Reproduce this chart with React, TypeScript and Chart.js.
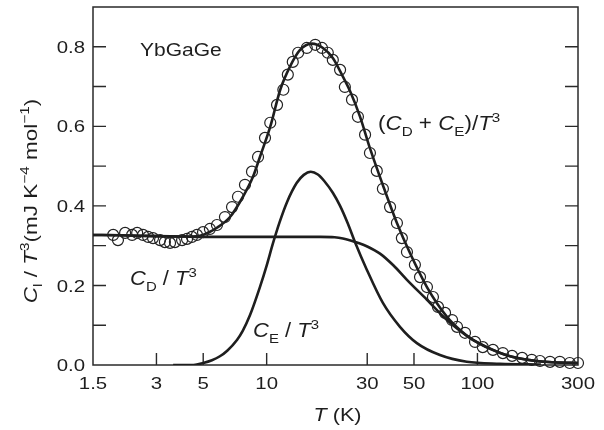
import React, { useEffect, useRef } from "react";
import { Chart, registerables } from "chart.js";

Chart.register(...registerables);

// ---------- data ----------
const xTickValues = [1.5, 3, 5, 10, 30, 50, 100, 300];
const xTickLabels = ["1.5", "3", "5", "10", "30", "50", "100", "300"];
const yTickValues = [0, 0.2, 0.4, 0.6, 0.8];
const yTickLabels = ["0.0", "0.2", "0.4", "0.6", "0.8"];
const yMinorValues = [0.1, 0.3, 0.5, 0.7];

// measured C_l/T^3 (open circles)
const dataT = [
  1.87, 1.97, 2.13, 2.3, 2.43, 2.59, 2.74, 2.89, 3.12, 3.29, 3.48, 3.67, 3.97, 4.19, 4.42, 4.67, 4.99, 5.38,
  5.81, 6.34, 6.85, 7.31, 7.89, 8.52, 9.1, 9.82, 10.4, 11.2, 12.0, 12.6, 13.3, 14.1, 15.5, 17.0, 18.3, 19.5,
  20.6, 22.3, 23.5, 25.4, 27.1, 29.3, 30.9, 33.3, 35.6, 38.5, 41.5, 43.8, 46.3, 50.5, 53.4, 57.6, 61.5, 65.0,
  70.2, 75.8, 80.0, 87.3, 97.4, 106, 118.5, 132, 146, 163, 181, 198, 221, 246, 274, 300,
];
const dataC = [
  0.327, 0.314, 0.332, 0.327, 0.332, 0.327, 0.322, 0.319, 0.314, 0.309, 0.307, 0.309, 0.314, 0.317, 0.322,
  0.327, 0.334, 0.342, 0.352, 0.372, 0.397, 0.423, 0.453, 0.486, 0.523, 0.571, 0.609, 0.654, 0.692, 0.73,
  0.762, 0.785, 0.797, 0.805, 0.797, 0.785, 0.767, 0.742, 0.699, 0.667, 0.624, 0.579, 0.533, 0.488, 0.443,
  0.397, 0.357, 0.319, 0.284, 0.252, 0.221, 0.196, 0.171, 0.146, 0.131, 0.113, 0.096, 0.081, 0.058, 0.045,
  0.038, 0.03, 0.023, 0.018, 0.013, 0.01, 0.008, 0.008, 0.005, 0.005,
];

// fit (C_D + C_E)/T^3
const totalT = [
  1.5, 2, 3, 4, 4.5, 4.83, 5.3, 5.81, 6.7, 7.72, 8.61, 9.29, 10.4, 11.6, 12.9, 14.4, 16.4, 18.5, 20.6, 23.0,
  24.8, 27.7, 30.9, 35.6, 41.5, 47.8, 57.6, 71.7, 82.6, 95.2, 118.5, 147, 198, 250, 300,
];
const totalC = [
  0.327, 0.326, 0.324, 0.323, 0.323, 0.325, 0.333, 0.345, 0.372, 0.423, 0.473, 0.523, 0.599, 0.692, 0.75,
  0.792, 0.808, 0.797, 0.772, 0.725, 0.69, 0.625, 0.545, 0.452, 0.357, 0.282, 0.196, 0.121, 0.088, 0.063,
  0.038, 0.02, 0.009, 0.006, 0.005,
];

// Debye part C_D/T^3
const debyeT = [1.5, 2, 3, 4, 5, 7, 10, 14, 18, 21, 23, 25, 27.5, 30, 34.5, 40, 46.3, 57.6, 71.7, 95.2, 128, 172, 230, 300];
const debyeC = [
  0.327, 0.326, 0.324, 0.323, 0.322, 0.322, 0.322, 0.322, 0.322, 0.321, 0.318, 0.313, 0.306, 0.298, 0.28, 0.25,
  0.214, 0.164, 0.113, 0.063, 0.03, 0.013, 0.007, 0.005,
];

// Einstein part C_E/T^3
const einsteinT = [
  3.6, 4.5, 5, 5.5, 6, 6.5, 7.23, 7.7, 8.33, 9.29, 10, 10.7, 11.5, 12.5, 13.9, 15.0, 16.2, 17.5, 18.8, 20.6,
  22.3, 24.3, 26.2, 29.9, 35.6, 42.9, 51.6, 66.4, 89, 128, 200,
];
const einsteinC = [
  0, 0, 0.005, 0.012, 0.022, 0.036, 0.063, 0.086, 0.125, 0.196, 0.25, 0.305, 0.358, 0.41, 0.458, 0.478, 0.486,
  0.479, 0.462, 0.433, 0.4, 0.355, 0.31, 0.239, 0.156, 0.096, 0.055, 0.025, 0.008, 0.003, 0.001,
];

// ---------- helpers ----------
const FAM = '"Liberation Sans", Arial, Helvetica, sans-serif';
const INK = "#1e1e1e";

type Seg = { t: string; i?: boolean; sub?: boolean; sup?: boolean };

function drawRich(
  ctx: CanvasRenderingContext2D,
  segs: Seg[],
  x: number,
  y: number,
  size: number,
  sx: number,
  align: "left" | "center"
) {
  const small = size * 0.68;
  const fontOf = (s: Seg) => `${s.i ? "italic " : ""}${s.sub || s.sup ? small : size}px ${FAM}`;
  let w = 0;
  for (const s of segs) {
    ctx.font = fontOf(s);
    w += ctx.measureText(s.t).width;
  }
  ctx.save();
  ctx.translate(x, y);
  ctx.scale(sx, 1);
  ctx.textAlign = "left";
  ctx.textBaseline = "alphabetic";
  ctx.fillStyle = INK;
  let cx = align === "center" ? -w / 2 : 0;
  for (const s of segs) {
    ctx.font = fontOf(s);
    const dy = s.sub ? size * 0.3 : s.sup ? -size * 0.42 : 0;
    ctx.fillText(s.t, cx, dy);
    cx += ctx.measureText(s.t).width;
  }
  ctx.restore();
}

const decorPlugin = {
  id: "decor",
  beforeDatasetsDraw(chart: any) {
    const { ctx, chartArea: a, scales } = chart;
    const xs = scales.x;
    const ys = scales.y;
    ctx.save();
    ctx.strokeStyle = "#2a2a2a";
    ctx.lineWidth = 1.5;
    ctx.strokeRect(a.left, a.top, a.right - a.left, a.bottom - a.top);
    ctx.lineWidth = 1.4;
    const tl = 13;
    ctx.beginPath();
    for (const v of [...yTickValues, ...yMinorValues]) {
      if (v === 0) continue;
      const py = ys.getPixelForValue(v);
      ctx.moveTo(a.left, py);
      ctx.lineTo(a.left + tl, py);
      ctx.moveTo(a.right, py);
      ctx.lineTo(a.right - tl, py);
    }
    for (const v of xTickValues) {
      if (v === xTickValues[0] || v === xTickValues[xTickValues.length - 1]) continue;
      const px = xs.getPixelForValue(v);
      ctx.moveTo(px, a.bottom);
      ctx.lineTo(px, a.bottom - 12);
    }
    ctx.stroke();
    ctx.restore();
  },
  afterDraw(chart: any) {
    const { ctx, chartArea: a, scales } = chart;
    const xs = scales.x;
    const ys = scales.y;
    const fs = 17;
    const sx = 1.2;
    // y tick labels
    yTickValues.forEach((v, k) => {
      const py = ys.getPixelForValue(v);
      const label = yTickLabels[k];
      ctx.font = `${fs}px ${FAM}`;
      const w = ctx.measureText(label).width * sx;
      drawRich(ctx, [{ t: label }], a.left - 8 - w, py + fs * 0.36, fs, sx, "left");
    });
    // x tick labels
    xTickValues.forEach((v, k) => {
      const px = xs.getPixelForValue(v);
      drawRich(ctx, [{ t: xTickLabels[k] }], px, a.bottom + 24, fs, sx, "center");
    });
    // x title
    drawRich(ctx, [{ t: "T", i: true }, { t: " (K)" }], (a.left + a.right) / 2 + 2, a.bottom + 56, 18, 1.2, "center");
    // y title
    ctx.save();
    ctx.translate(37, (a.top + a.bottom) / 2 + 15);
    ctx.rotate(-Math.PI / 2);
    drawRich(
      ctx,
      [
        { t: "C", i: true },
        { t: "l", sub: true },
        { t: " / " },
        { t: "T", i: true },
        { t: "3", sup: true },
        { t: "(mJ K" },
        { t: "\u22124", sup: true },
        { t: " mol" },
        { t: "\u22121", sup: true },
        { t: ")" },
      ],
      0,
      0,
      18,
      1.25,
      "center"
    );
    ctx.restore();
    // annotations
    drawRich(ctx, [{ t: "YbGaGe" }], 140, 56, 17.5, 1.2, "left");
    drawRich(
      ctx,
      [
        { t: "(" },
        { t: "C", i: true },
        { t: "D", sub: true },
        { t: " + " },
        { t: "C", i: true },
        { t: "E", sub: true },
        { t: ")/" },
        { t: "T", i: true },
        { t: "3", sup: true },
      ],
      378,
      130,
      20,
      1.12,
      "left"
    );
    drawRich(
      ctx,
      [{ t: "C", i: true }, { t: "D", sub: true }, { t: " / " }, { t: "T", i: true }, { t: "3", sup: true }],
      130,
      285,
      20,
      1.1,
      "left"
    );
    drawRich(
      ctx,
      [{ t: "C", i: true }, { t: "E", sub: true }, { t: " / " }, { t: "T", i: true }, { t: "3", sup: true }],
      253,
      337,
      20,
      1.1,
      "left"
    );
  },
};

const toXY = (xs: number[], ys: number[]) => xs.map((x, i) => ({ x, y: ys[i] }));

export default function App() {
  const ref = useRef<HTMLCanvasElement | null>(null);
  useEffect(() => {
    document.body.style.margin = "0";
    const canvas = ref.current;
    if (!canvas) return;
    const lineStyle = {
      showLine: true,
      pointRadius: 0,
      borderWidth: 2.6,
      borderColor: INK,
      backgroundColor: INK,
      cubicInterpolationMode: "monotone" as const,
      fill: false,
    };
    const chart = new Chart(canvas, {
      type: "scatter",
      data: {
        datasets: [
          {
            label: "data",
            data: toXY(dataT, dataC),
            showLine: false,
            pointRadius: 5.5,
            pointBorderWidth: 1.2,
            pointBorderColor: "#222",
            pointBackgroundColor: "rgba(0,0,0,0)",
            clip: false,
          } as any,
          { label: "total", data: toXY(totalT, totalC), ...lineStyle } as any,
          { label: "CD", data: toXY(debyeT, debyeC), ...lineStyle } as any,
          { label: "CE", data: toXY(einsteinT, einsteinC), ...lineStyle } as any,
        ],
      },
      options: {
        responsive: false,
        animation: false,
        events: [],
        layout: { padding: { left: 93, right: 26, top: 7, bottom: 65 } },
        plugins: { legend: { display: false }, tooltip: { enabled: false } },
        scales: {
          x: { type: "logarithmic", min: 1.5, max: 300, display: false },
          y: { type: "linear", min: 0, max: 0.9, display: false },
        },
      },
      plugins: [decorPlugin],
    });
    return () => chart.destroy();
  }, []);
  return <canvas ref={ref} width={604} height={430} style={{ display: "block", width: 604, height: 430 }} />;
}
